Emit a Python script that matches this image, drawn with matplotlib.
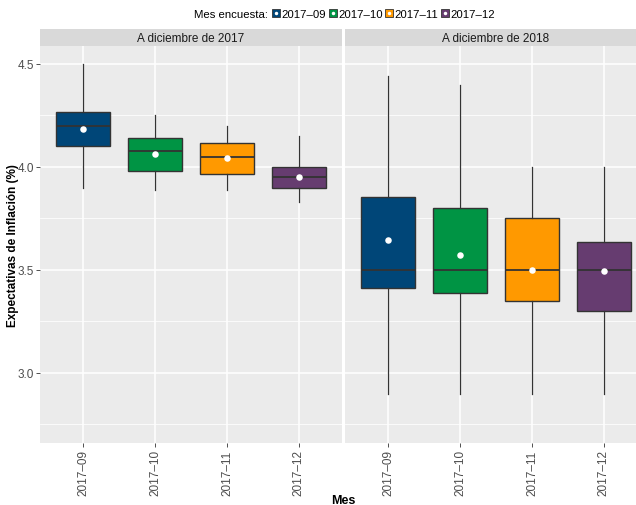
import matplotlib.pyplot as plt
from matplotlib.lines import Line2D
from matplotlib.patches import Patch

plt.rcParams['font.family'] = ['Liberation Sans', 'DejaVu Sans']

# Survey months and the two forecast horizons
meses = ['2017–09', '2017–10', '2017–11', '2017–12']
paneles = ['A diciembre de 2017', 'A diciembre de 2018']
colores = ['#004678', '#009444', '#FF9900', '#663C70']

# Box statistics per horizon: lower whisker, Q1, median, Q3, upper whisker, mean
dic17_whislo = [3.90, 3.89, 3.89, 3.83]
dic17_q1 = [4.10, 3.98, 3.965, 3.90]
dic17_med = [4.20, 4.075, 4.05, 3.95]
dic17_q3 = [4.265, 4.14, 4.115, 4.00]
dic17_whishi = [4.50, 4.25, 4.20, 4.15]
dic17_mean = [4.183, 4.062, 4.042, 3.95]

dic18_whislo = [2.90, 2.90, 2.90, 2.90]
dic18_q1 = [3.41, 3.39, 3.35, 3.30]
dic18_med = [3.50, 3.50, 3.50, 3.50]
dic18_q3 = [3.853, 3.80, 3.75, 3.635]
dic18_whishi = [4.44, 4.40, 4.00, 4.00]
dic18_mean = [3.645, 3.573, 3.50, 3.495]

datos = [
    (dic17_whislo, dic17_q1, dic17_med, dic17_q3, dic17_whishi, dic17_mean),
    (dic18_whislo, dic18_q1, dic18_med, dic18_q3, dic18_whishi, dic18_mean),
]

W, H = 636, 506
fig = plt.figure(figsize=(W / 100, H / 100), dpi=100)
fig.patch.set_facecolor('white')

gris_txt = '#4D4D4D'
linea = '#333333'
ylim = (2.66, 4.587)

lefts = [40, 345]
ancho = 302
bottom, top = 444, 47
strip_top = 30

for k, (left, titulo, d) in enumerate(zip(lefts, paneles, datos)):
    ax = fig.add_axes([left / W, 1 - bottom / H, ancho / W, (bottom - top) / H])
    ax.set_facecolor('#EBEBEB')
    for s in ax.spines.values():
        s.set_visible(False)

    whislo, q1, med, q3, whishi, media = d
    stats = []
    for i in range(len(meses)):
        stats.append(dict(whislo=whislo[i], q1=q1[i], med=med[i], q3=q3[i],
                          whishi=whishi[i], fliers=[]))
    pos = list(range(1, len(meses) + 1))
    bp = ax.bxp(stats, positions=pos, widths=0.75, patch_artist=True,
                showcaps=False, showfliers=False, manage_ticks=False,
                boxprops=dict(edgecolor=linea, linewidth=1.0),
                medianprops=dict(color=linea, linewidth=1.3),
                whiskerprops=dict(color=linea, linewidth=0.9))
    for caja, c in zip(bp['boxes'], colores):
        caja.set_facecolor(c)
    ax.scatter(pos, media, s=22, color='white', zorder=5, linewidths=0)

    ax.set_xlim(0.4, 4.6)
    ax.set_ylim(*ylim)
    ax.set_xticks(pos)
    ax.set_xticklabels(meses, rotation=90, color=gris_txt, fontsize=8.5)
    ax.set_yticks([3.0, 3.5, 4.0, 4.5])
    ax.set_yticks([2.75, 3.25, 3.75, 4.25], minor=True)
    ax.set_xticks([], minor=True)
    ax.grid(True, which='major', color='white', linewidth=1.1)
    ax.grid(True, which='minor', axis='y', color='white', linewidth=0.55)
    ax.set_axisbelow(True)
    ax.tick_params(axis='both', which='major', length=3, color='#333333',
                   width=0.6, pad=1.5)
    ax.tick_params(axis='y', which='minor', length=0)
    if k == 0:
        ax.set_yticklabels(['3.0', '3.5', '4.0', '4.5'], color=gris_txt,
                           fontsize=8.5)
    else:
        ax.tick_params(axis='y', which='major', length=0, labelleft=False)

    # facet strip
    sx = fig.add_axes([left / W, 1 - top / H, ancho / W, (top - strip_top) / H])
    sx.set_facecolor('#D9D9D9')
    sx.set_xticks([])
    sx.set_yticks([])
    for s in sx.spines.values():
        s.set_visible(False)
    sx.text(0.5, 0.5, titulo, ha='center', va='center', fontsize=8.5,
            color='#1A1A1A', transform=sx.transAxes)

fig.text(13 / W, 1 - 246 / H, 'Expectativas de Inflación (%)', rotation=90,
         ha='center', va='center', fontsize=8.5, fontweight='bold')
fig.text(343 / W, 1 - 501 / H, 'Mes', ha='center', va='center',
         fontsize=9, fontweight='bold')

# legend row along the top
fig.text(268 / W, 1 - 15 / H, 'Mes encuesta:', ha='right', va='center',
         fontsize=8.2)
handles = []
for c in colores:
    caja = Patch(facecolor=c, edgecolor=linea, linewidth=0.6)
    punto = Line2D([], [], linestyle='none', marker='o', markersize=2.5,
                   markerfacecolor='white', markeredgewidth=0)
    handles.append((caja, punto))
fig.legend(handles, meses, loc='center left',
           bbox_to_anchor=(272 / W, 1 - 15 / H), ncol=4, frameon=False,
           fontsize=8.2, handlelength=0.7, handleheight=0.7,
           handletextpad=0.15, columnspacing=0.2, borderpad=0,
           borderaxespad=0)

fig.savefig('out.png', dpi=100)
